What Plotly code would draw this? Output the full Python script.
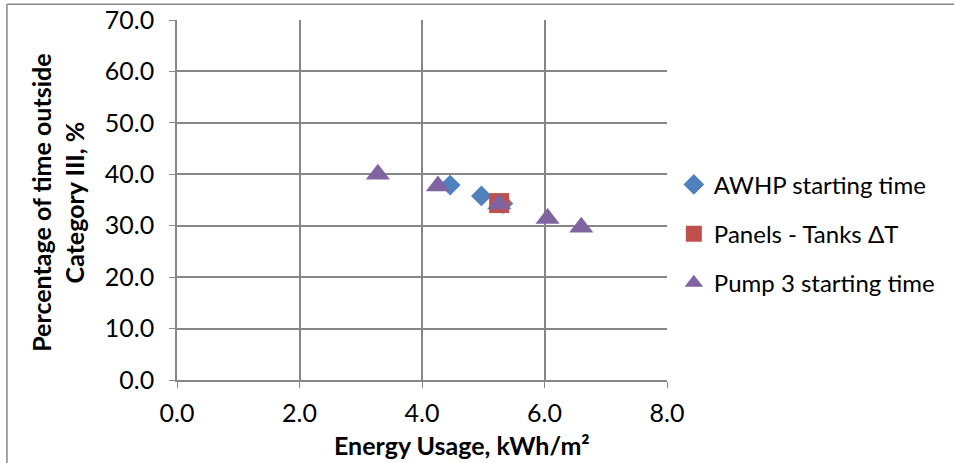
import plotly.graph_objects as go

awhp_x = [4.46, 4.97, 5.32]
awhp_y = [37.9, 35.8, 34.3]
panels_x = [5.26]
panels_y = [34.4]
pump_x = [3.28, 4.26, 5.26, 6.05, 6.60]
pump_y = [40.0, 37.7, 34.2, 31.4, 29.7]

x_ticks = [0, 2, 4, 6, 8]
y_ticks = [0, 10, 20, 30, 40, 50, 60, 70]

FONT = "Lato"
GRID = "#868686"

fig = go.Figure()
fig.add_trace(go.Scatter(x=awhp_x, y=awhp_y, mode="markers", name="AWHP starting time",
                         legendgroup="a",
                         marker=dict(symbol="diamond", size=16, color="#4F81BD")))
fig.add_trace(go.Scatter(x=panels_x, y=panels_y, mode="markers", name="Panels - Tanks ΔT",
                         legendgroup="b",
                         marker=dict(symbol="square", size=20, color="#C0504D")))
fig.add_trace(go.Scatter(x=pump_x, y=pump_y, mode="markers", name="Pump 3 starting time",
                         legendgroup="c",
                         marker=dict(symbol="triangle-up", size=21, color="#8064A2")))

fig.update_layout(
    width=954, height=463,
    margin=dict(l=177, r=287, t=20, b=83, autoexpand=False),
    paper_bgcolor="white", plot_bgcolor="white",
    font=dict(family=FONT, size=25, color="black"),
    showlegend=True,
    legend=dict(x=1.014, y=0.406, xanchor="left", yanchor="middle",
                font=dict(family=FONT, size=24), tracegroupgap=15,
                itemwidth=30, bgcolor="rgba(0,0,0,0)"),
    xaxis=dict(range=[0, 8], tickvals=x_ticks, ticktext=[f"{v:.1f}" for v in x_ticks],
               showgrid=True, gridcolor=GRID, gridwidth=1.5,
               showline=True, linecolor=GRID, linewidth=1.5,
               ticks="outside", ticklen=6, tickcolor=GRID, zeroline=False,
               automargin=False, ticklabelstandoff=4,
               tickfont=dict(size=25)),
    yaxis=dict(range=[0, 70], tickvals=y_ticks, ticktext=[f"{v:.1f}" for v in y_ticks],
               showgrid=True, gridcolor=GRID, gridwidth=1.5,
               showline=True, linecolor=GRID, linewidth=1.5,
               ticks="outside", ticklen=6, tickcolor=GRID, zeroline=False,
               automargin=False, ticklabelstandoff=10,
               tickfont=dict(size=25)),
    annotations=[
        dict(text="<b>Energy Usage, kWh/m²</b>", xref="paper", yref="paper",
             x=0.582, y=-0.181, xanchor="center", yanchor="middle", showarrow=False,
             font=dict(family=FONT, size=25)),
        dict(text="<b>Percentage of time outside<br>Category III, %</b>", xref="paper", yref="paper",
             x=-0.243, y=0.492, xanchor="center", yanchor="middle", showarrow=False,
             textangle=-90, font=dict(family=FONT, size=25)),
    ],
    shapes=[
        dict(type="line", xref="paper", yref="paper", x0=-0.347, x1=1.6, y0=1.044, y1=1.044,
             line=dict(color=GRID, width=1.5)),
        dict(type="line", xref="paper", yref="paper", x0=-0.347, x1=-0.347, y0=1.044, y1=-0.3,
             line=dict(color=GRID, width=1.5)),
    ],
)

fig.write_html("out.html", config={"displayModeBar": False},
               post_script="document.body.style.margin='0';document.body.style.overflow='hidden';")
